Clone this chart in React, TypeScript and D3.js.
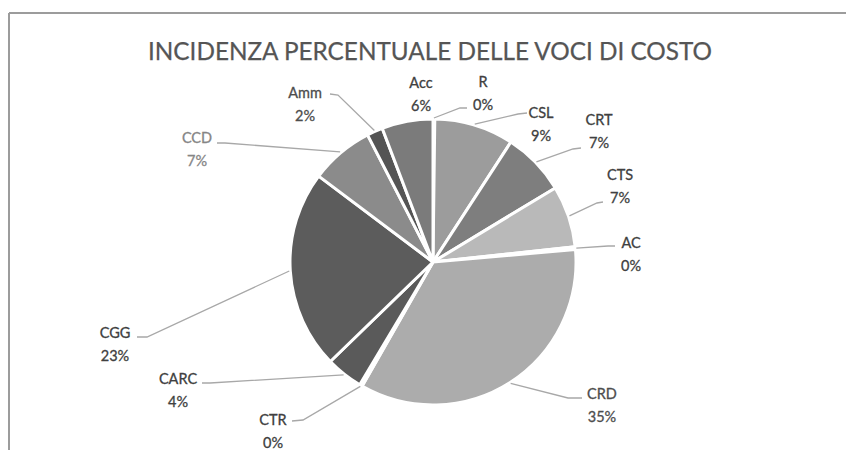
import React from "react";
import * as d3 from "d3";

const categories = ["R", "CSL", "CRT", "CTS", "AC", "CRD", "CTR", "CARC", "CGG", "CCD", "Amm", "Acc"];
const values = [0.2, 9.0, 7.2, 7.0, 0.3, 34.8, 0.3, 4.2, 22.6, 7.2, 1.8, 5.8];
const pctLabels = ["0%", "9%", "7%", "7%", "0%", "35%", "0%", "4%", "23%", "7%", "2%", "6%"];
const title = "INCIDENZA PERCENTUALE DELLE VOCI DI COSTO";

const sliceColors = ["#9a9a9a", "#9c9c9c", "#7e7e7e", "#b9b9b9", "#a0a0a0", "#acacac", "#6a6a6a", "#5a5a5a", "#5c5c5c", "#8b8b8b", "#545454", "#7b7b7b"];

// label layout: text centre of name line, leader anchor near label, elbow point
const labelLayout = [
  { x: 483, y: 81, ax: 467, ay: 108, ex: 460, ey: 108 },
  { x: 541, y: 112, ax: 527, ay: 113, ex: 518, ey: 114 },
  { x: 599, y: 119, ax: 581, ay: 148, ex: 573, ey: 149 },
  { x: 620, y: 174, ax: 603, ay: 202, ex: 597, ey: 203 },
  { x: 631, y: 242, ax: 615, ay: 246, ex: 608, ey: 246 },
  { x: 602, y: 393, ax: 582, ay: 398, ex: 568, ey: 398 },
  { x: 273, y: 419, ax: 292, ay: 421, ex: 303, ey: 420 },
  { x: 178, y: 378, ax: 202, ay: 383, ex: 210, ey: 383 },
  { x: 115, y: 332, ax: 137, ay: 337, ex: 147, ey: 337 },
  { x: 197, y: 137, ax: 217, ay: 143, ex: 225, ey: 143 },
  { x: 305, y: 92, ax: 330, ay: 94, ex: 338, ey: 95 },
  { x: 421, y: 82, ax: null, ay: null, ex: null, ey: null },
];
const labelColors = ["#404040", "#404040", "#404040", "#404040", "#404040", "#4d4d4d", "#404040", "#404040", "#404040", "#858585", "#4d4d4d", "#404040"];

export default function App() {
  const W = 846, H = 450;
  const cx = 433, cy = 262, r = 143;
  const pie = d3.pie<number>().sort(null).value((d) => d);
  const arcs = pie(values);
  const arc = d3.arc<d3.PieArcDatum<number>>().innerRadius(0).outerRadius(r);
  const font = "Lato, 'Open Sans', sans-serif";

  return (
    <svg width={W} height={H} style={{ position: "fixed", left: 0, top: 0, background: "#fff" }}>
      <rect x={0} y={0} width={W} height={H} fill="#fff" />
      <line x1={9} y1={13} x2={W} y2={13} stroke="#9c9c9c" strokeWidth={2} />
      <line x1={9} y1={13} x2={9} y2={H} stroke="#9c9c9c" strokeWidth={2} />
      <text x={430} y={50} textAnchor="middle" dominantBaseline="central" fontFamily={font} fontSize={24.3} fill="#555555" stroke="#555555" strokeWidth={0.25}>
        {title}
      </text>
      <g transform={`translate(${cx},${cy})`}>
        {arcs.map((a, i) => (
          <path key={categories[i]} d={arc(a) || ""} fill={sliceColors[i]} stroke="#fff" strokeWidth={3} strokeLinejoin="round" />
        ))}
      </g>
      {arcs.map((a, i) => {
        const L = labelLayout[i];
        if (L.ax === null) return null;
        const mid = (a.startAngle + a.endAngle) / 2;
        const px = cx + Math.sin(mid) * (r + 1);
        const py = cy - Math.cos(mid) * (r + 1);
        const path = d3.line()([[L.ax, L.ay], [L.ex, L.ey], [px, py]] as [number, number][]);
        return <path key={"l" + i} d={path || ""} fill="none" stroke="#a8a8a8" strokeWidth={1.3} />;
      })}
      {categories.map((c, i) => {
        const L = labelLayout[i];
        return (
          <g key={"t" + c} fontFamily={font} fontSize={14.5} fill={labelColors[i]} stroke={labelColors[i]} strokeWidth={0.3} textAnchor="middle">
            <text x={L.x} y={L.y} dominantBaseline="central">{c}</text>
            <text x={L.x} y={L.y + 23.5} dominantBaseline="central">{pctLabels[i]}</text>
          </g>
        );
      })}
    </svg>
  );
}
